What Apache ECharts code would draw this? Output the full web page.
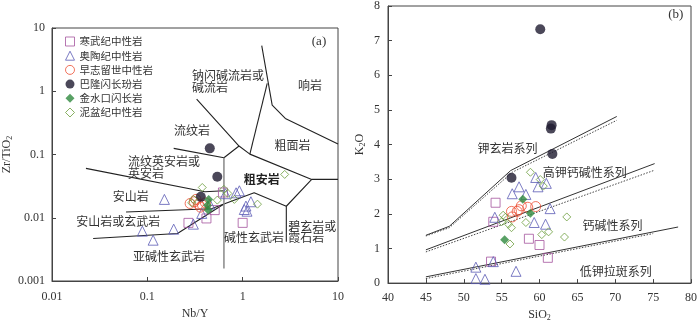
<!DOCTYPE html>
<html>
<head>
<meta charset="utf-8">
<script src="https://cdn.jsdelivr.net/npm/echarts@6/dist/echarts.min.js"></script>
<style>
  html, body { margin: 0; padding: 0; background: #fff; }
  #main { width: 700px; height: 327px; }
</style>
</head>
<body>
<div id="main"></div>
<script>
// ---- (a) Nb/Y vs Zr/TiO2 ----
const nbyTicks = ['0.01', '0.1', '1', '10'];
const zrTiTicks = ['0.001', '0.01', '0.1', '1', '10'];

const cambrianA = [[0.270, 0.0083], [0.417, 0.00975], [0.509, 0.0132], [0.621, 0.0251], [1.0, 0.0083]];
const ordovicianA = [[0.151, 0.0195], [0.0887, 0.00614], [0.115, 0.00442], [0.189, 0.0066], [0.304, 0.00792],
  [0.452, 0.0164], [0.372, 0.0117], [0.66, 0.024], [0.853, 0.0248], [0.923, 0.0267], [1.082, 0.0153],
  [1.04, 0.0135], [1.22, 0.0179], [1.11, 0.0127]];
const silurianA = [[0.281, 0.0168], [0.311, 0.0179], [0.343, 0.0164], [0.379, 0.0158], [0.407, 0.0172],
  [0.324, 0.0195], [0.361, 0.0147]];
const balongA = [[0.452, 0.125], [0.542, 0.0444], [0.364, 0.0214]];
const jinshuikouA = [[0.440, 0.0195], [0.428, 0.0158], [0.435, 0.0132]];
const devonianA = [[0.377, 0.0301], [0.304, 0.0195], [0.292, 0.0172], [0.635, 0.0281], [0.700, 0.0242],
  [0.818, 0.0195], [1.43, 0.0164], [2.76, 0.0484], [0.542, 0.019]];

// field boundaries (Winchester & Floyd)
const bndA = [
  [[0.329, 0.753], [0.916, 0.136], [1.19, 0.1014], [5.30, 0.0404], [10, 0.0404]],
  [[0.189, 0.125], [0.636, 0.0887], [0.916, 0.136]],
  [[1.19, 0.1014], [1.81, 1.334]],
  [[1.585, 5.25], [2.04, 0.605], [2.80, 0.372], [10, 0.146]],
  [[5.30, 0.0404], [2.87, 0.0152], [2.87, 0.00416]],
  [[0.0227, 0.0603], [0.401, 0.0257], [0.636, 0.0267]],
  [[0.0598, 0.0123], [0.47, 0.0139], [0.636, 0.0165], [1.32, 0.0248], [2.87, 0.0152]],
  [[0.027, 0.0047], [0.207, 0.00565], [0.636, 0.0165]]
];
const dividerA = [[0.636, 0.0887], [0.636, 0.00158]];

// ---- (b) SiO2 vs K2O ----
const sioTicks = [40, 45, 50, 55, 60, 65, 70, 75, 80];
const k2oTicks = [0, 1, 2, 3, 4, 5, 6, 7, 8];

const cambrianB = [[54.2, 2.32], [53.9, 1.77], [53.6, 0.62], [58.6, 1.28], [60.0, 1.10], [61.1, 0.73]];
const ordovicianB = [[51.6, 0.46], [51.6, 0.13], [52.8, 0.11], [56.9, 0.34], [53.9, 0.62], [54.1, 1.90],
  [56.4, 2.58], [57.3, 2.78], [58.2, 2.56], [59.5, 3.05], [59.8, 2.78], [60.9, 2.88], [59.3, 1.75],
  [60.8, 1.70], [61.4, 2.15]];
const silurianB = [[56.3, 2.07], [57.05, 2.07], [57.3, 2.12], [57.6, 2.23], [58.45, 2.19], [59.5, 2.21], [56.4, 1.91]];
const balongB = [[60.1, 7.33], [61.6, 4.56], [61.5, 4.46], [61.7, 3.73], [56.3, 3.04]];
const jinshuikouB = [[57.8, 2.42], [58.8, 2.02], [55.4, 1.25]];
const devonianB = [[58.8, 3.20], [60.1, 2.99], [60.5, 2.80], [55.2, 1.96], [55.5, 1.90], [55.0, 1.77],
  [55.9, 1.70], [56.3, 1.60], [58.2, 1.75], [60.3, 1.40], [61.2, 1.48], [63.6, 1.91], [63.3, 1.33], [56.1, 1.13]];

const solidB = [
  [[45, 1.38], [48.1, 1.64], [56.2, 3.25], [70.2, 4.81]],
  [[45, 0.96], [75.2, 3.45]],
  [[45, 0.18], [78.3, 1.62]]
];
const dottedB = [
  [[45, 1.36], [48.1, 1.60], [56.4, 3.20], [70.2, 4.70]],
  [[45, 0.90], [75.2, 3.26]],
  [[45, 0.13], [75, 1.43]]
];

const names = ['寒武纪中性岩', '奥陶纪中性岩', '早志留世中性岩', '巴隆闪长玢岩', '金水口闪长岩', '泥盆纪中性岩'];

const chart = echarts.init(document.getElementById('main'));

const serif = 'Liberation Serif';
const cjk = 'Noto Sans CJK SC';
const axisCol = '#444';

function hollow(c) { return { color: 'rgba(255,255,255,0)', borderColor: c, borderWidth: 1 }; }
function solid(c) { return { color: c, borderWidth: 0 }; }

const styles = [
  { symbol: 'rect', size: 9, item: hollow('#a5559f') },
  { symbol: 'triangle', size: 10, item: hollow('#5b5bb5') },
  { symbol: 'circle', size: 10, item: hollow('#ee5035') },
  { symbol: 'circle', size: 10, item: solid('#1e1a30') },
  { symbol: 'diamond', size: 9, item: solid('#2f8a3f') },
  { symbol: 'diamond', size: 8, item: hollow('#6b9d3c') }
];
const groupsA = [cambrianA, ordovicianA, silurianA, balongA, jinshuikouA, devonianA];
const groupsB = [cambrianB, ordovicianB, silurianB, balongB, jinshuikouB, devonianB];

const series = [];
bndA.forEach(function (d) {
  series.push({ type: 'line', xAxisIndex: 0, yAxisIndex: 0, data: d, showSymbol: false, silent: true,
    lineStyle: { color: '#222', width: 1.1 }, z: 1 });
});
series.push({ type: 'line', xAxisIndex: 0, yAxisIndex: 0, data: dividerA, showSymbol: false, silent: true,
  lineStyle: { color: '#888', width: 1.5 }, z: 1 });
solidB.forEach(function (d) {
  series.push({ type: 'line', xAxisIndex: 1, yAxisIndex: 1, data: d, showSymbol: false, silent: true,
    lineStyle: { color: '#333', width: 1 }, z: 1 });
});
dottedB.forEach(function (d) {
  series.push({ type: 'line', xAxisIndex: 1, yAxisIndex: 1, data: d, showSymbol: false, silent: true,
    lineStyle: { color: '#444', width: 1, type: [1.5, 1.5] }, z: 1 });
});
names.forEach(function (n, i) {
  const s = styles[i];
  series.push({ name: n, type: 'scatter', xAxisIndex: 0, yAxisIndex: 0, data: groupsA[i],
    symbol: s.symbol, symbolSize: s.size, itemStyle: s.item, z: 3 });
  series.push({ name: n, type: 'scatter', xAxisIndex: 1, yAxisIndex: 1, data: groupsB[i],
    symbol: s.symbol, symbolSize: s.size, itemStyle: s.item, z: 3 });
});

function label(text, x, y, align, extra) {
  return { type: 'text', z: 10, style: Object.assign({ text: text, x: x, y: y, textAlign: align || 'center',
    textVerticalAlign: 'middle', fill: '#333', font: '12px "' + cjk + '"' }, extra || {}) };
}

const axisCommon = {
  axisLine: { show: true, lineStyle: { color: axisCol, width: 1 } },
  axisTick: { show: true, inside: true, length: 4, lineStyle: { color: axisCol } },
  splitLine: { show: false },
  axisLabel: { fontFamily: serif, fontSize: 12, color: '#333' },
  nameLocation: 'middle',
  nameTextStyle: { fontFamily: serif, fontSize: 12, color: '#333' }
};

function logFmt(ticks, base) {
  return function (v) { return ticks[Math.round(Math.log10(v)) - base] || ''; };
}

chart.setOption({
  animation: false,
  backgroundColor: '#fff',
  grid: [
    { left: 48, top: 28, width: 290, height: 253, show: true, borderColor: axisCol, borderWidth: 1 },
    { left: 388, top: 1.5, width: 305, height: 289, show: true, borderColor: axisCol, borderWidth: 1 }
  ],
  xAxis: [
    Object.assign({}, axisCommon, { gridIndex: 0, type: 'log', logBase: 10, min: 0.01, max: 10,
      name: 'Nb/Y', nameGap: 26,
      axisLabel: Object.assign({}, axisCommon.axisLabel, { margin: 10, formatter: logFmt(nbyTicks, -2) }) }),
    Object.assign({}, axisCommon, { gridIndex: 1, type: 'value', min: 40, max: 80, interval: 5,
      name: '{a|SiO}{b|2}', nameGap: 24,
      nameTextStyle: { rich: { a: { fontFamily: serif, fontSize: 12, color: '#333' },
        b: { fontFamily: serif, fontSize: 8, color: '#333', padding: [6, 0, 0, 0] } } },
      axisLabel: Object.assign({}, axisCommon.axisLabel, { margin: 9,
        formatter: function (v) { return sioTicks.indexOf(v) >= 0 ? String(v) : ''; } }) })
  ],
  yAxis: [
    Object.assign({}, axisCommon, { gridIndex: 0, type: 'log', logBase: 10, min: 0.001, max: 10,
      name: '{a|Zr/TiO}{b|2}', nameGap: 38,
      nameTextStyle: { rich: { a: { fontFamily: serif, fontSize: 12, color: '#333' },
        b: { fontFamily: serif, fontSize: 8, color: '#333', padding: [6, 0, 0, 0] } } },
      axisLabel: Object.assign({}, axisCommon.axisLabel, { margin: 7, formatter: logFmt(zrTiTicks, -3) }) }),
    Object.assign({}, axisCommon, { gridIndex: 1, type: 'value', min: 0, max: 8, interval: 1,
      name: '{a|K}{b|2}{a|O}', nameGap: 21,
      nameTextStyle: { rich: { a: { fontFamily: serif, fontSize: 12, color: '#333' },
        b: { fontFamily: serif, fontSize: 8, color: '#333', padding: [6, 0, 0, 0] } } },
      axisLabel: Object.assign({}, axisCommon.axisLabel, { margin: 8,
        formatter: function (v) { return k2oTicks.indexOf(v) >= 0 ? String(v) : ''; } }) })
  ],
  legend: {
    orient: 'vertical', left: 60, top: 31, itemWidth: 9, itemHeight: 9, itemGap: 3.2,
    textStyle: { fontFamily: cjk, fontSize: 10.5, color: '#333', lineHeight: 11 },
    selectedMode: false,
    data: names.map(function (n, i) {
      return { name: n, icon: styles[i].symbol, itemStyle: styles[i].item };
    })
  },
  graphic: [
    label('钠闪碱流岩或', 192, 75, 'left'),
    label('碱流岩', 192, 87.5, 'left'),
    label('响岩', 310, 85),
    label('流纹岩', 192, 130.7),
    label('粗面岩', 292.5, 145.7),
    label('流纹英安岩或', 128, 161.7, 'left'),
    label('英安岩', 128, 173.3, 'left'),
    label('粗安岩', 261.7, 179, 'center', { font: 'bold 12px "' + cjk + '"', fill: '#222' }),
    label('安山岩', 130.8, 196),
    label('安山岩或玄武岩', 118.3, 221.7),
    label('亚碱性玄武岩', 169, 256.7),
    label('碱性玄武岩', 254, 237.3),
    label('碧玄岩或', 288.3, 226, 'left'),
    label('霞石岩', 288.3, 237.3, 'left'),
    label('(a)', 319, 41.7, 'center', { font: '13px "' + serif + '"' }),
    label('钾玄岩系列', 507.5, 148.3),
    label('高钾钙碱性系列', 584.7, 172.7),
    label('钙碱性系列', 612.5, 225),
    label('低钾拉斑系列', 615.8, 271.7),
    label('(b)', 675.8, 15, 'center', { font: '13px "' + serif + '"' })
  ],
  series: series
});
</script>
</body>
</html>
